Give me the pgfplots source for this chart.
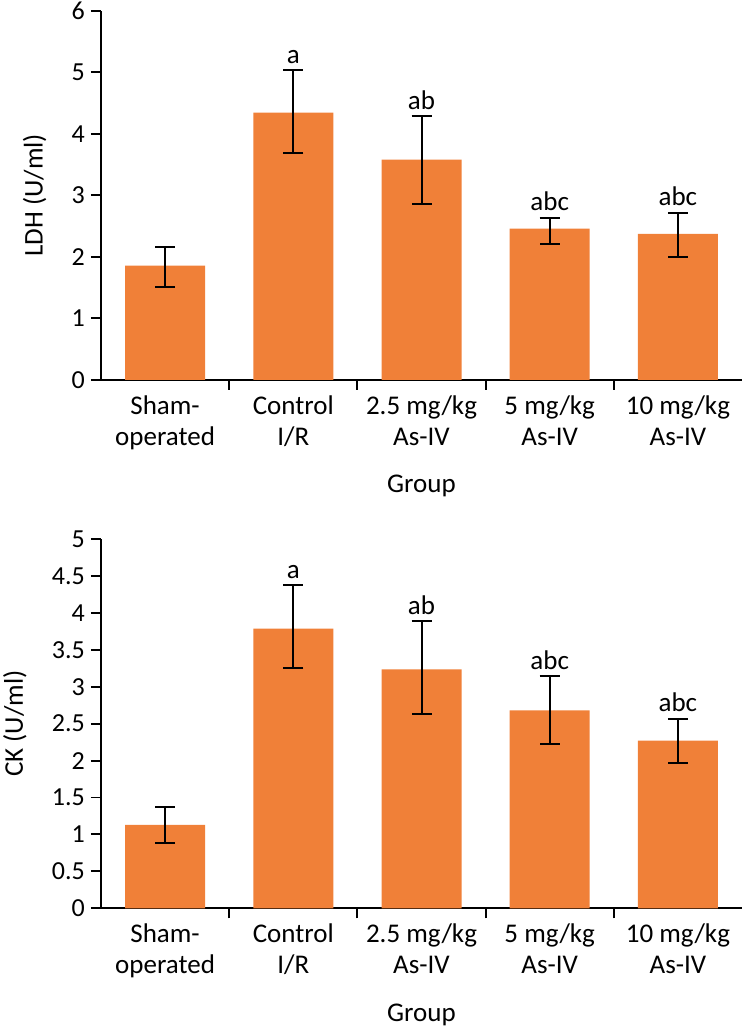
\documentclass[border=0pt]{standalone}
\usepackage{fontspec}
\setmainfont{Carlito}
\usepackage{pgfplots}
\usepackage{pgfplotstable}
\pgfplotsset{compat=1.18}
\definecolor{barorange}{RGB}{240,128,56}

\pgfplotstableread{
x y ep em
0 1.857 0.309 0.351
1 4.343 0.687 0.655
2 3.580 0.704 0.726
3 2.458 0.174 0.254
4 2.372 0.346 0.379
}\ldhdata

\pgfplotstableread{
x y ep em
0 1.128 0.239 0.240
1 3.785 0.592 0.536
2 3.235 0.650 0.600
3 2.680 0.465 0.452
4 2.269 0.294 0.298
}\ckdata

\pgfplotsset{
  mystyle/.style={
    scale only axis, width=641pt, height=369.3pt,
    xmin=-0.5, xmax=4.5, ymin=0,
    axis lines*=left,
    axis line style={line width=1.9pt, black},
    xtick={0,1,2,3,4},
    xticklabels={\strut Sham-\\operated, \strut Control\\I/R, \strut 2.5 mg/kg\\As-IV, \strut 5 mg/kg\\As-IV, \strut 10 mg/kg\\As-IV},
    minor xtick={0.5,1.5,2.5,3.5},
    major x tick style={draw=none},
    minor x tick style={line width=1.9pt, black},
    y tick style={line width=1.9pt, black},
    tick align=outside,
    major tick length=10pt, minor tick length=10pt,
    yticklabel style={font=\fontsize{26}{31}\selectfont, inner sep=0pt, anchor=east, xshift=-6pt},
    xticklabel style={font=\fontsize{27}{31}\selectfont, align=center, inner sep=0pt, anchor=north, yshift=-2.3pt},
    /pgf/number format/assume math mode=true,
    label style={font=\fontsize{27}{31}\selectfont},
    xlabel={Group},
    xlabel style={at={(axis description cs:0.5,0)}, anchor=base, yshift=-113pt, inner sep=0pt},
    ylabel style={at={(ticklabel cs:0.5,25pt)}, anchor=south, inner sep=0pt},
    clip=false,
  },
  barstyle/.style={ybar, bar width=80pt, fill=barorange, draw=none,
    error bars/.cd, y dir=both, y explicit,
    error bar style={line width=2pt, black},
    error mark options={rotate=90, mark size=10pt, line width=2pt, black}},
  labstyle/.style={only marks, mark=none, nodes near coords, point meta=explicit symbolic,
    nodes near coords style={anchor=base, yshift=7pt, inner sep=0pt, font=\fontsize{27}{31}\selectfont, black}},
}

\begin{document}
\begin{tikzpicture}
\path[use as bounding box] (0,0) rectangle (744pt,1028pt);
\begin{axis}[mystyle, at={(101pt,648pt)}, anchor=south west,
  ymax=6, ytick={0,1,2,3,4,5,6}, ylabel={LDH (U/ml)}]
\addplot[barstyle] table[x=x, y=y, y error plus=ep, y error minus=em]{\ldhdata};
\addplot[labstyle] coordinates {(1,5.030)[a] (2,4.284)[ab] (3,2.632)[abc] (4,2.718)[abc]};
\end{axis}
\begin{axis}[mystyle, at={(101pt,119.7pt)}, anchor=south west,
  ymax=5, ytick={0,0.5,1,1.5,2,2.5,3,3.5,4,4.5,5}, ylabel={CK (U/ml)}]
\addplot[barstyle] table[x=x, y=y, y error plus=ep, y error minus=em]{\ckdata};
\addplot[labstyle] coordinates {(1,4.377)[a] (2,3.885)[ab] (3,3.145)[abc] (4,2.563)[abc]};
\end{axis}
\end{tikzpicture}
\end{document}
